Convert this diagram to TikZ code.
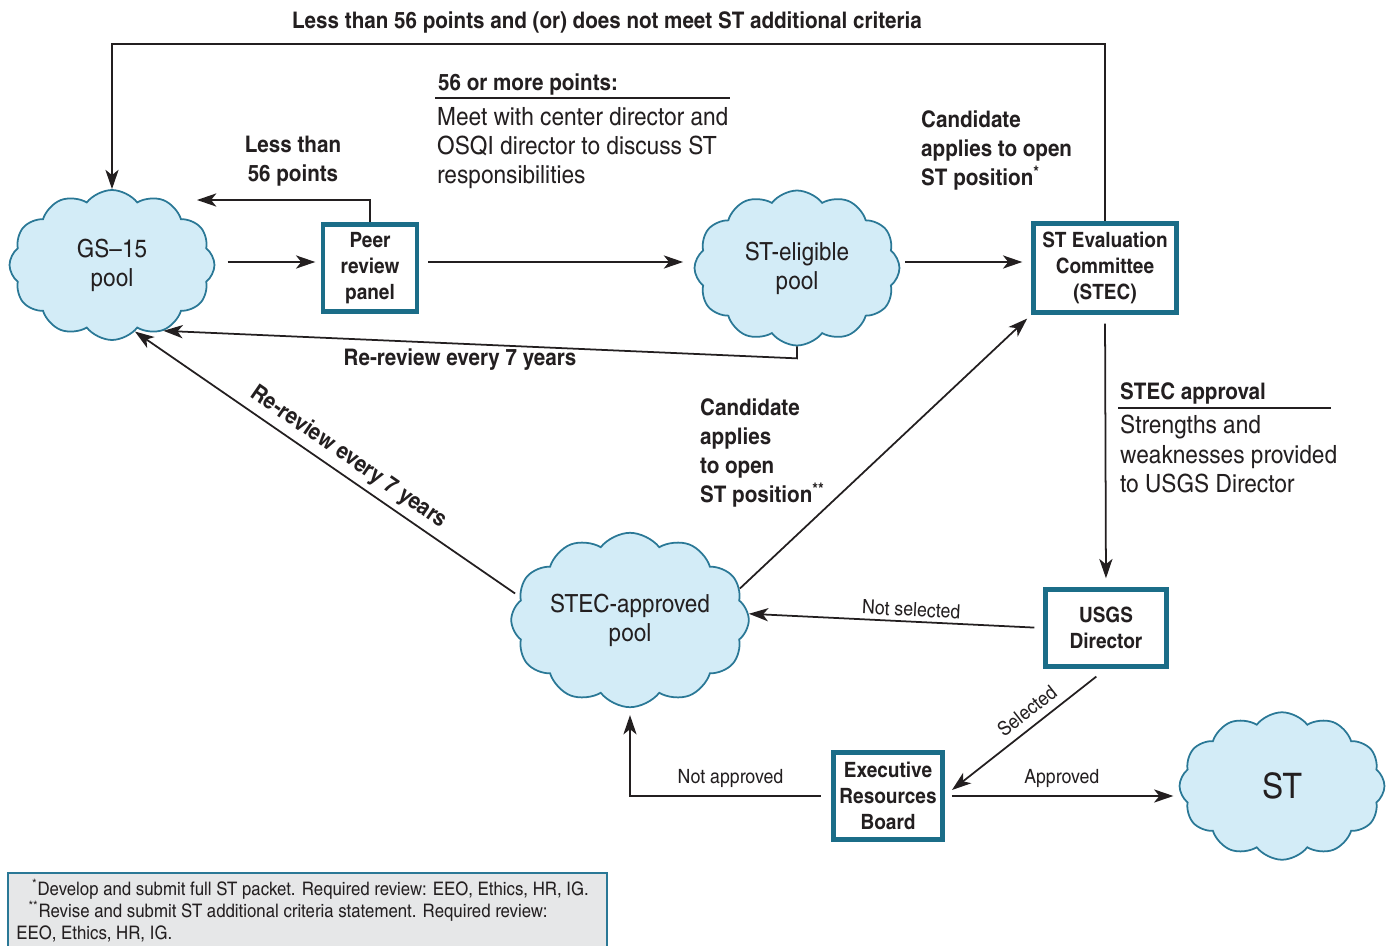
\documentclass[tikz,border=0pt]{standalone}
\usepackage{fontspec}
\setmainfont{texgyreheroscn}[Extension=.otf, UprightFont=*-regular, BoldFont=*-bold, FakeStretch=1.1]
\usetikzlibrary{arrows.meta, shapes.symbols, calc}

\definecolor{boxteal}{HTML}{1B6D88}
\definecolor{cloudline}{HTML}{2A7896}
\definecolor{cloudfill}{HTML}{D3ECF7}
\definecolor{notefill}{HTML}{E6E7E8}
\definecolor{inkgray}{HTML}{231F20}

\begin{document}
\begin{tikzpicture}[
    x=0.02cm, y=-0.02cm,
    >=Stealth,
    link/.style={-{Stealth[length=11pt, width=7.5pt, inset=3pt]}, line width=1pt, draw=inkgray},
    pool/.style={cloud, cloud puffs=12, cloud puff arc=105, aspect=1.5, inner sep=0pt, draw=cloudline, fill=cloudfill,
        line width=1pt, align=center, text=inkgray, font=\fontsize{14.2}{16.5}\selectfont},
    panel/.style={draw=boxteal, line width=2.8pt, fill=white, align=center, text=inkgray,
        font=\bfseries\fontsize{12}{14.7}\selectfont},
    lbl/.style={align=left, text=inkgray, font=\bfseries\fontsize{13}{16.5}\selectfont},
    note/.style={align=left, text=inkgray, font=\fontsize{14.3}{16.7}\selectfont},
    tag/.style={text=inkgray, font=\fontsize{11.2}{13}\selectfont}
]
\useasboundingbox (0,0) rectangle (1393,946);

% Pools
\node[pool, minimum width=4.1cm, minimum height=3cm] (gs) at (112,265) {GS--15\\pool};
\node[pool, minimum width=4.1cm, minimum height=3.1cm] (elig) at (797,268) {ST-eligible\\pool};
\node[pool, minimum width=4.15cm, minimum height=3.3cm] (stap) at (630,620) {STEC-approved\\pool};
\node[pool, minimum width=4.1cm, minimum height=2.95cm] (st) at (1282,786) {\fontsize{20}{22}\selectfont ST};

% Panels
\node[panel, minimum width=1.88cm, minimum height=1.74cm] (peer) at (370,268) {Peer\\review\\panel};
\node[panel, minimum width=2.86cm, minimum height=1.78cm] (stec) at (1105,268) {ST Evaluation\\Committee\\(STEC)};
\node[panel, minimum width=2.42cm, minimum height=1.54cm] (usgs) at (1106,628) {USGS\\Director};
\node[panel, minimum width=2.18cm, minimum height=1.74cm] (erb) at (888,796) {Executive\\Resources\\Board};

% Free ends
\coordinate (toprail) at (607,44);
\coordinate (back) at (197,200);
\coordinate (gsout) at ($(gs.east |- peer.west)+(0,-6)$);
\coordinate (peerout) at ($(peer.east)+(9,-6)$);
\coordinate (eligout) at ($(elig.east |- peer.east)+(5,-6)$);

% Top loop back to GS-15
\draw[link] (stec.north) |- (toprail) -| (gs.north);
\node[lbl] (fail) at (607,22) {Less than 56 points and (or) does not meet ST additional criteria};

% Peer review
\draw[link, shorten <=7pt, shorten >=3pt] (gsout) -- (gsout -| peer.west);
\draw[link] (peer.north) |- (back);
\node[lbl, align=center] (less) at (293,161) {Less than\\56 points};
\draw[link, shorten >=6pt] (peerout) -- (peerout -| elig.west);

\node[lbl, anchor=west] (pts) at (432,84) {56 or more points:};
\draw[line width=1pt, draw=inkgray] (435,98) -- (730,98);
\node[note, anchor=north west] (meet) at (431,101) {Meet with center director and\\OSQI director to discuss ST\\responsibilities};

% To STEC
\draw[link, shorten >=5pt] (eligout) -- (eligout -| stec.west);
\node[lbl, anchor=north west] (apply1) at (915,104) {Candidate\\applies to open\\ST position\textsuperscript{*}};

% Re-review from ST-eligible
\draw[link] (elig.south) -- ++(0,12) -- (gs.-52);
\node[lbl] (rr1) at (460,360) {Re-review every 7 years};

% From STEC-approved pool
\draw[link, shorten <=3pt] (stap.168) -- (gs.-71)
    node[lbl, midway, sloped, above=0pt, xshift=8pt] (rr2) {Re-review every 7 years};
\draw[link, shorten >=3pt] (stap.16) -- (stec.south west);
\node[lbl, anchor=north west] (apply2) at (694,392) {Candidate\\applies\\to open\\ST position\textsuperscript{**}};

% STEC approval
\draw[link, shorten <=5pt, shorten >=5pt] (stec.south) -- (usgs.north);
\node[lbl, anchor=west] (appr) at (1114,393) {STEC approval};
\draw[line width=1pt, draw=inkgray] (1118,408) -- (1331,408);
\node[note, anchor=north west] (strength) at (1114,409) {Strengths and\\weaknesses provided\\to USGS Director};

% Director decision
\draw[link, shorten <=5pt] (usgs.west) -- (stap.3)
    node[tag, pos=0.45, sloped, above=-1pt] (nsel) {Not selected};
\draw[link, shorten <=7pt] (usgs.south) -- ($(erb.east)+(7,-6)$)
    node[tag, pos=0.45, sloped, above=1pt] (sel) {Selected};

% Board decision
\draw[link, shorten <=6pt, shorten >=4pt] (erb.west) -| (stap.south)
    node[tag, pos=0.25, above=1pt] (napp) {Not approved};
\draw[link, shorten <=4pt, shorten >=3pt] (erb.east) -- (erb.east -| st.west)
    node[tag, midway, above=1pt] (app) {Approved};

% Footnotes
\draw[draw=cloudline, line width=0.8pt, fill=notefill] (8,873) rectangle (607,950);
\node[anchor=north west, align=left, text=inkgray, font=\fontsize{10.6}{12.4}\selectfont, inner sep=0pt] (foot) at (16,879)
    {\hspace*{9pt}\textsuperscript{*}Develop and submit full ST packet. Required review: EEO, Ethics, HR, IG.\\
     \hspace*{7pt}\textsuperscript{**}Revise and submit ST additional criteria statement. Required review:\\
     EEO, Ethics, HR, IG.};
\end{tikzpicture}
\end{document}
